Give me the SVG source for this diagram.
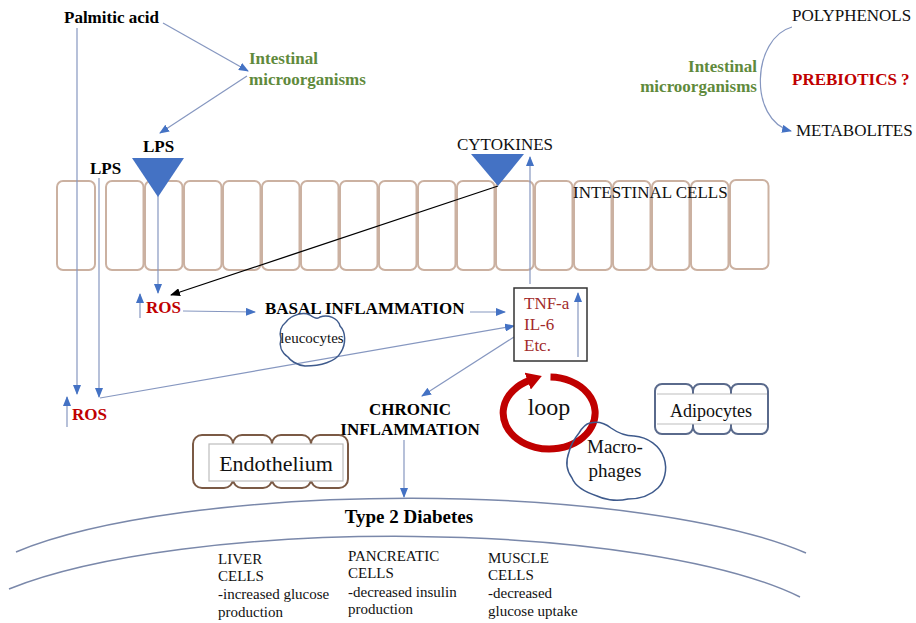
<svg xmlns="http://www.w3.org/2000/svg" width="916" height="623" viewBox="0 0 916 623" font-family="'Liberation Serif', 'Times New Roman', serif">
<style>
text{font-family:'Liberation Serif','Times New Roman',serif;}
.b{font-weight:bold;font-size:17px;fill:#000;}
.r{font-size:17px;fill:#111;}
.g{font-weight:bold;font-size:17px;fill:#5f8a3c;}
.red{font-weight:bold;font-size:17px;fill:#c00000;}
.tnf{font-size:17px;fill:#a22a2a;}
.sm{font-size:15px;fill:#111;}
.cell{fill:#fff;stroke:#cbb1a1;stroke-width:2;}
.ln{fill:none;stroke:#8697c0;stroke-width:1.2;}
.lnb{fill:none;stroke:#000;stroke-width:1.3;}
.tri{fill:#4472c4;}
.cloud{fill:none;stroke:#3e5a8c;stroke-width:1.5;}
.endo{fill:#fff;stroke:#7b5a45;stroke-width:2;}
.adi{fill:#fff;stroke:#5a6a8c;stroke-width:2;}
.inner{fill:#fff;stroke:#bdbdbd;stroke-width:1.2;}
.arc{fill:none;stroke:#7a88aa;stroke-width:1.5;}
</style>
<defs>
<marker id="ab" markerWidth="10" markerHeight="8" refX="9" refY="4" orient="auto" markerUnits="userSpaceOnUse"><path d="M0,0 L10,4 L0,8 z" fill="#4472c4"/></marker>
<marker id="ak" markerWidth="10" markerHeight="8" refX="9" refY="4" orient="auto" markerUnits="userSpaceOnUse"><path d="M0,0 L10,4 L0,8 z" fill="#000"/></marker>
<marker id="ar" markerWidth="18" markerHeight="18" refX="2" refY="9" orient="auto" markerUnits="userSpaceOnUse"><path d="M0,0 L15,9 L0,18 z" fill="#c00000"/></marker>
</defs>

<g id="intestinal-cells">
<rect class="cell" x="57" y="181" width="38" height="89" rx="6"/>
<rect class="cell" x="106" y="181" width="37.5" height="89" rx="6"/>
<rect class="cell" x="145" y="181" width="37.5" height="89" rx="6"/>
<rect class="cell" x="184" y="181" width="37.5" height="89" rx="6"/>
<rect class="cell" x="223" y="181" width="37.5" height="89" rx="6"/>
<rect class="cell" x="262" y="181" width="37.5" height="89" rx="6"/>
<rect class="cell" x="301" y="181" width="37.5" height="89" rx="6"/>
<rect class="cell" x="340" y="181" width="37.5" height="89" rx="6"/>
<rect class="cell" x="379" y="181" width="37.5" height="89" rx="6"/>
<rect class="cell" x="418" y="181" width="37.5" height="89" rx="6"/>
<rect class="cell" x="457" y="181" width="37.5" height="89" rx="6"/>
<rect class="cell" x="496" y="181" width="37.5" height="89" rx="6"/>
<rect class="cell" x="535" y="181" width="37.5" height="89" rx="6"/>
<rect class="cell" x="574" y="181" width="37.5" height="89" rx="6"/>
<rect class="cell" x="613" y="181" width="37.5" height="89" rx="6"/>
<rect class="cell" x="652" y="181" width="37.5" height="89" rx="6"/>
<rect class="cell" x="691" y="181" width="37.5" height="89" rx="6"/>
<rect class="cell" x="730" y="180" width="38.5" height="89" rx="6"/>
<text class="r" x="573" y="198">INTESTINAL CELLS</text>
</g>

<g id="connectors">
<line class="ln" x1="77" y1="28" x2="77" y2="394" marker-end="url(#ab)"/>
<line class="ln" x1="99" y1="178" x2="99" y2="397" marker-end="url(#ab)"/>
<line class="ln" x1="163" y1="23" x2="248" y2="71" marker-end="url(#ab)"/>
<line class="ln" x1="247" y1="76" x2="160" y2="133" marker-end="url(#ab)"/>
<line class="ln" x1="158" y1="196" x2="158" y2="293" marker-end="url(#ab)"/>
<line class="lnb" x1="498" y1="186" x2="171" y2="295" marker-end="url(#ak)"/>
<line class="ln" x1="530" y1="284" x2="530" y2="157" marker-end="url(#ab)"/>
<line class="ln" x1="140" y1="318" x2="140" y2="294" marker-end="url(#ab)"/>
<line class="ln" x1="183" y1="311" x2="255" y2="312" marker-end="url(#ab)"/>
<line class="ln" x1="470" y1="312" x2="505" y2="312" marker-end="url(#ab)"/>
<line class="ln" x1="100" y1="398" x2="514" y2="326" marker-end="url(#ab)"/>
<line class="ln" x1="514" y1="337" x2="422" y2="396" marker-end="url(#ab)"/>
<line class="ln" x1="67" y1="427" x2="67" y2="397" marker-end="url(#ab)"/>
<line class="ln" x1="404" y1="440" x2="404" y2="497" marker-end="url(#ab)"/>
<path class="ln" d="M792,27 C752,38 748,120 791,131" marker-end="url(#ab)"/>
</g>

<g id="palmitic-acid"><text class="b" x="64" y="23">Palmitic acid</text></g>
<g id="microorganisms-left">
<text class="g" x="249" y="64">Intestinal</text>
<text class="g" x="249" y="85">microorganisms</text>
</g>
<g id="lps1">
<text class="b" x="143" y="152">LPS</text>
<polygon class="tri" points="132,158 184,158 158,197"/>
</g>
<g id="lps2"><text class="b" x="90" y="174">LPS</text></g>
<g id="cytokines">
<text class="r" x="457" y="150">CYTOKINES</text>
<polygon class="tri" points="471,154 524,154 498,186"/>
</g>

<g id="right-top">
<text class="r" x="792" y="21">POLYPHENOLS</text>
<text class="red" x="792" y="85">PREBIOTICS ?</text>
<text class="r" x="796" y="136">METABOLITES</text>
<text class="g" x="757" y="72" text-anchor="end">Intestinal</text>
<text class="g" x="757" y="92" text-anchor="end">microorganisms</text>
</g>

<g id="ros1"><text class="red" x="146" y="313">ROS</text></g>
<g id="basal"><text class="b" x="265" y="314">BASAL INFLAMMATION</text></g>
<g id="leucocytes">
<path class="cloud" d="M286,322 C292,314 304,312 310,315 C314,318 318,319 320,317 C328,314 338,318 340,326 C346,332 346,344 341,352 C336,362 320,366 305,366 C296,365 290,360 288,357 C281,352 279,345 281,339 C279,332 281,326 286,322 Z"/>
<text x="312" y="343" text-anchor="middle" font-size="15" fill="#111">leucocytes</text>
</g>
<g id="tnf-box">
<rect x="514" y="288" width="73" height="73" fill="#fff" stroke="#333" stroke-width="1.5"/>
<text class="tnf" x="524" y="309">TNF-a</text>
<text class="tnf" x="524" y="330">IL-6</text>
<text class="tnf" x="524" y="351">Etc.</text>
<line class="ln" x1="578" y1="357" x2="578" y2="293" marker-end="url(#ab)"/>
</g>
<g id="ros2"><text class="red" x="72" y="420">ROS</text></g>
<g id="chronic">
<text class="b" x="410" y="415" text-anchor="middle">CHRONIC</text>
<text class="b" x="410" y="435" text-anchor="middle">INFLAMMATION</text>
</g>

<g id="endothelium">
<rect class="endo" x="193" y="435" width="40" height="53" rx="9"/>
<rect class="endo" x="233" y="435" width="39" height="53" rx="9"/>
<rect class="endo" x="272" y="435" width="39" height="53" rx="9"/>
<rect class="endo" x="311" y="435" width="37" height="53" rx="9"/>
<rect class="inner" x="209" y="444" width="134" height="37"/>
<text x="276" y="471" text-anchor="middle" font-size="22" fill="#111">Endothelium</text>
</g>

<g id="loop">
<path d="M550.5,377 A46,36 0 1 1 529.6,380.4" fill="none" stroke="#c00000" stroke-width="7" marker-end="url(#ar)"/>
<text x="549" y="415" text-anchor="middle" font-size="24" fill="#111">loop</text>
</g>

<g id="macrophages">
<path class="cloud" d="M590,423 C598,421 606,424 611,428 C618,433 626,436 634,436 C648,437 660,446 664,458 C668,470 664,482 658,488 C650,496 640,499 628,499 C615,502 603,499 597,496 C585,492 575,486 572,478 C566,470 566,460 569,452 C571,444 575,438 579,433 C582,428 585,424 590,423 Z"/>
<text x="615" y="453" text-anchor="middle" font-size="19" fill="#111">Macro-</text>
<text x="615" y="477" text-anchor="middle" font-size="19" fill="#111">phages</text>
</g>

<g id="adipocytes">
<rect class="adi" x="655" y="384" width="38" height="50" rx="7"/>
<rect class="adi" x="693" y="384" width="38" height="50" rx="7"/>
<rect class="adi" x="731" y="384" width="37" height="50" rx="7"/>
<rect x="657" y="394" width="110" height="30" fill="#fff"/>
<line x1="657" y1="394" x2="767" y2="394" stroke="#bdbdbd" stroke-width="1.2"/>
<line x1="657" y1="424" x2="767" y2="424" stroke="#bdbdbd" stroke-width="1.2"/>
<text x="711" y="417" text-anchor="middle" font-size="18" fill="#111">Adipocytes</text>
</g>

<g id="type2-diabetes">
<path class="arc" d="M16,552 A450,104 0 0 1 806,553"/>
<path class="arc" d="M9,589 A450,108 0 0 1 800,597"/>
<text x="409" y="523" text-anchor="middle" font-weight="bold" font-size="19" fill="#000">Type 2 Diabetes</text>
</g>
<g id="liver">
<text class="sm" x="218" y="564">LIVER</text>
<text class="sm" x="218" y="581">CELLS</text>
<text class="sm" x="218" y="599">-increased glucose</text>
<text class="sm" x="218" y="617">production</text>
</g>
<g id="pancreatic">
<text class="sm" x="348" y="561">PANCREATIC</text>
<text class="sm" x="348" y="578">CELLS</text>
<text class="sm" x="348" y="597">-decreased insulin</text>
<text class="sm" x="348" y="614">production</text>
</g>
<g id="muscle">
<text class="sm" x="488" y="563">MUSCLE</text>
<text class="sm" x="488" y="580">CELLS</text>
<text class="sm" x="488" y="598">-decreased</text>
<text class="sm" x="488" y="616">glucose uptake</text>
</g>
</svg>
